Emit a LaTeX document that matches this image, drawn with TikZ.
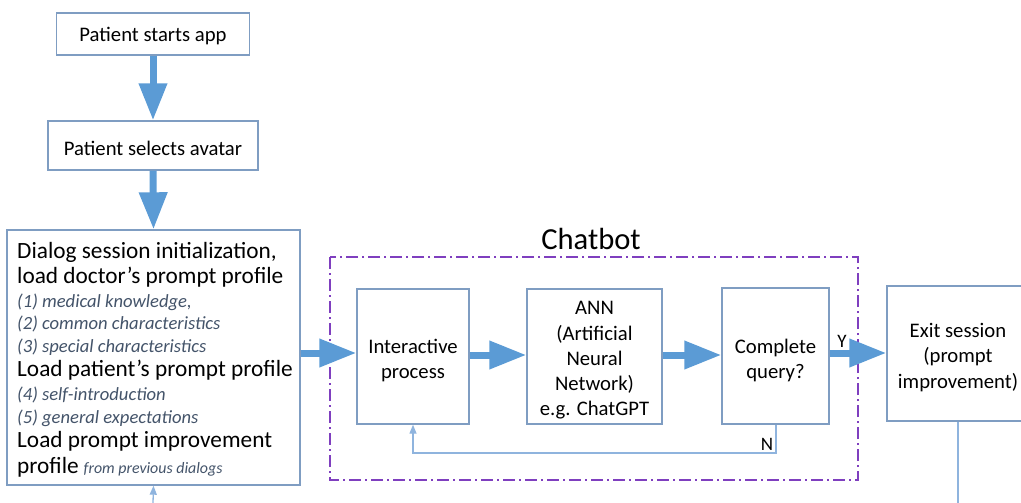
\documentclass[tikz,border=0pt]{standalone}
\usepackage{fontspec}
\setmainfont{Carlito}
\usetikzlibrary{arrows.meta}
\definecolor{flowblue}{HTML}{5B9BD5}
\definecolor{boxedge}{HTML}{7F9DC2}
\definecolor{notegray}{HTML}{44546A}
\definecolor{thinblue}{HTML}{8FB4DE}
\definecolor{groupviolet}{HTML}{7F3FBF}
\tikzset{
  x=1pt, y=-1pt,
  procbox/.style={draw=boxedge, line width=1.4pt, fill=white, inner sep=0pt},
  bigarrow/.style={draw=flowblue, line width=7pt,
    -{Triangle[length=37pt,width=27pt,fill=flowblue]}},
  thinarrow/.style={draw=thinblue, line width=1.3pt,
    -{Triangle[length=9pt,width=7pt,fill=thinblue]}},
  regtext/.style={font=\fontsize{20.7}{25.3}\selectfont, align=center, inner sep=0pt},
  bigline/.style={font=\fontsize{23.3}{26}\selectfont, anchor=mid west, inner sep=0pt},
  noteline/.style={font=\fontsize{18.6}{22}\selectfont\itshape, text=notegray, anchor=mid west, inner sep=0pt},
}
\begin{document}
\begin{tikzpicture}
\useasboundingbox (0,0) rectangle (1021,503);
\clip (0,0) rectangle (1021,503);

% Chatbot group frame and title
\draw[groupviolet, line width=1.4pt, dash pattern=on 12pt off 4pt on 2pt off 4pt]
  (330,257) rectangle (858,480);
\node[font=\fontsize{30.6}{34}\selectfont, inner sep=0pt] (chattitle) at (591,239) {Chatbot};

% Start-up steps
\node[procbox, minimum width=193pt, minimum height=42pt] (start) at (153,34) {};
\node[regtext] (starttxt) at (153,36.5) {Patient starts app};
\node[procbox, minimum width=210pt, minimum height=49pt] (avatar) at (153,145.5) {};
\node[regtext] (avatartxt) at (153,148) {Patient selects avatar};

% Session initialisation box
\node[procbox, minimum width=293pt, minimum height=255pt] (init) at (153.5,357.5) {};
\node[bigline] (i1) at (17,256) {Dialog session initialization,};
\node[bigline] (i2) at (17,281) {load doctor’s prompt profile};
\node[noteline] (i3) at (17,305) {(1) medical knowledge,};
\node[noteline] (i4) at (17,327.5) {(2) common characteristics};
\node[noteline] (i5) at (17,350) {(3) special characteristics};
\node[bigline] (i6) at (17,374) {Load patient’s prompt profile};
\node[noteline] (i7) at (17,398) {(4) self-introduction};
\node[noteline] (i8) at (17,421) {(5) general expectations};
\node[bigline] (i9) at (17,445) {Load prompt improvement};
\node[bigline] (i10) at (17,471) {profile\hspace{5pt}{\fontsize{15.9}{18}\selectfont\itshape\color{notegray}from previous dialogs}};

% Chatbot steps
\node[procbox, minimum width=112pt, minimum height=135pt] (inter) at (413,356.5) {};
\node[regtext] (intertxt) at (413,360.5) {Interactive\\process};
\node[procbox, minimum width=135pt, minimum height=135pt] (ann) at (594.5,356.5) {};
\node[regtext] (anntxt) at (594.5,360.5) {ANN\\(Artificial\\Neural\\Network)\\e.g. ChatGPT};
\node[procbox, minimum width=107pt, minimum height=136pt] (query) at (775.5,356) {};
\node[regtext] (querytxt) at (775.5,360.5) {Complete\\query?};

% Exit step
\node[procbox, minimum width=142pt, minimum height=135pt] (exit) at (958,353.5) {};
\node[regtext] (exittxt) at (958,357.5) {Exit session\\(prompt\\improvement)};

% Main flow
\draw[bigarrow] (start.south) -- (avatar.north);
\draw[bigarrow] (avatar.south) -- (init.north);
\draw[bigarrow] (init.east |- 0,353) -- (inter.west |- 0,353);
\draw[bigarrow] (inter.east |- 0,355) -- (ann.west |- 0,355);
\draw[bigarrow] (ann.east |- 0,355) -- (query.west |- 0,355);
\draw[bigarrow] (query.east |- 0,353) -- (exit.west |- 0,353);
\node[regtext, font=\fontsize{19}{22}\selectfont] (ylab) at (842,341) {Y};

% Retry loop
\coordinate (loopR) at (776,453);
\coordinate (loopL) at (413,453);
\draw[thinarrow] (query.south -| loopR) -- (loopR) -- (loopL) -- (inter.south);
\node[regtext, font=\fontsize{19}{22}\selectfont] (nlab) at (767,444) {N};

% Return paths leaving the picture
\coordinate (backin) at (153,503);
\draw[thinarrow] (backin) -- (init.south);
\coordinate (exitout) at (958,503);
\draw[draw=thinblue, line width=1.3pt] (exit.south) -- (exitout);
\end{tikzpicture}
\end{document}
